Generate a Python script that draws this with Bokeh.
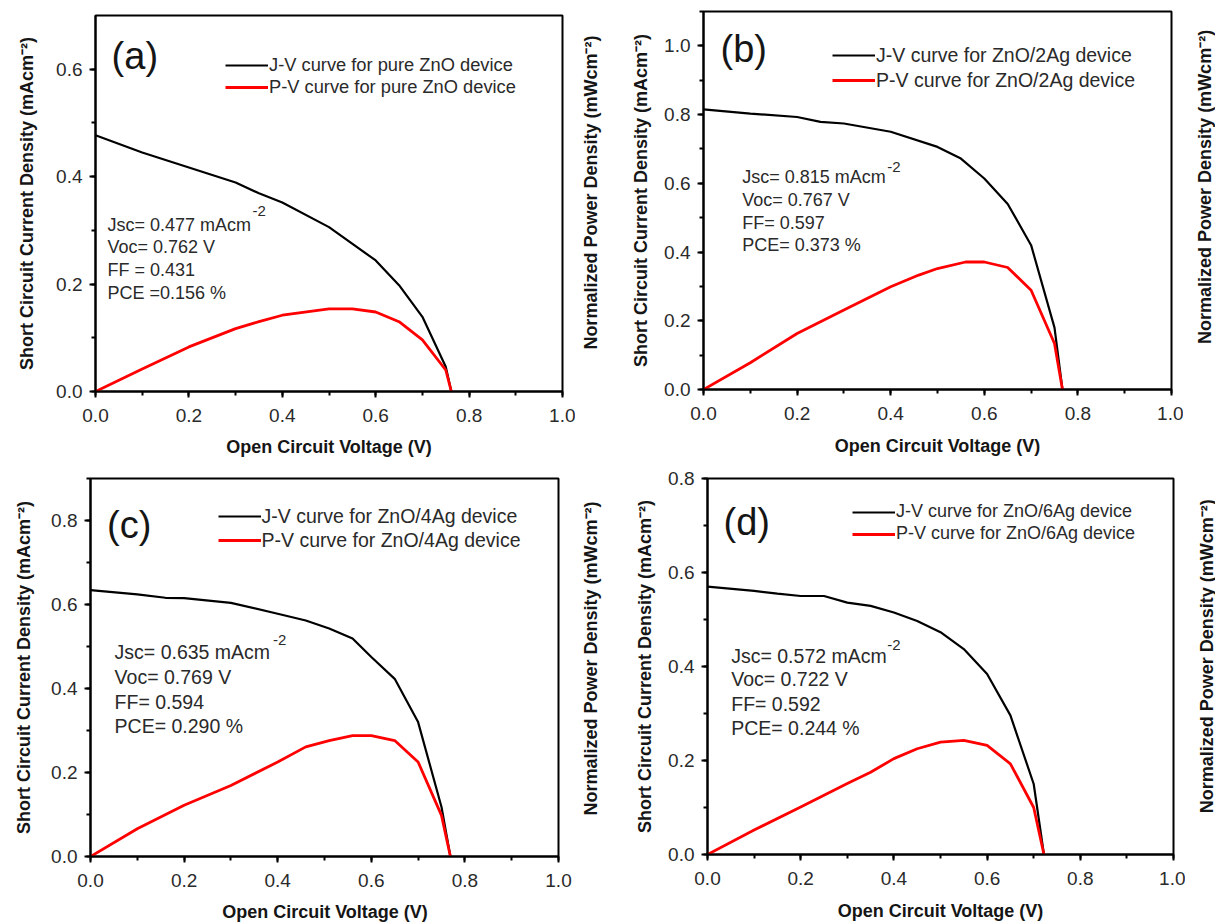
import math
from bokeh.plotting import figure
from bokeh.models import Range1d, SingleIntervalTicker, Legend, LegendItem, NumeralTickFormatter
from bokeh.layouts import column, row
from bokeh.embed import file_html
from bokeh.resources import INLINE
from bokeh.core.properties import value

FONT = "Liberation Sans"

# ---------------- data ----------------
# (a) pure ZnO
a_jv_v = [0.0, 0.1, 0.2, 0.3, 0.35, 0.4, 0.5, 0.6, 0.65, 0.7, 0.75, 0.762]
a_jv_j = [0.477, 0.445, 0.417, 0.389, 0.369, 0.352, 0.306, 0.244, 0.198, 0.139, 0.046, 0.0]
a_pv_v = [0.0, 0.1, 0.2, 0.3, 0.35, 0.4, 0.5, 0.55, 0.6, 0.65, 0.7, 0.75, 0.762]
a_pv_p = [0.0, 0.042, 0.083, 0.117, 0.130, 0.142, 0.154, 0.154, 0.148, 0.130, 0.096, 0.040, 0.0]

# (b) ZnO/2Ag
b_jv_v = [0.0, 0.1, 0.2, 0.25, 0.3, 0.4, 0.5, 0.55, 0.6, 0.65, 0.7, 0.75, 0.767]
b_jv_j = [0.815, 0.803, 0.793, 0.779, 0.774, 0.750, 0.706, 0.672, 0.614, 0.540, 0.420, 0.180, 0.0]
b_pv_v = [0.0, 0.1, 0.2, 0.3, 0.4, 0.46, 0.5, 0.56, 0.6, 0.65, 0.7, 0.75, 0.767]
b_pv_p = [0.0, 0.078, 0.163, 0.231, 0.299, 0.333, 0.352, 0.371, 0.371, 0.355, 0.289, 0.134, 0.0]

# (c) ZnO/4Ag
c_jv_v = [0.0, 0.1, 0.16, 0.2, 0.3, 0.4, 0.46, 0.51, 0.56, 0.6, 0.65, 0.7, 0.75, 0.769]
c_jv_j = [0.634, 0.624, 0.616, 0.615, 0.604, 0.578, 0.562, 0.543, 0.519, 0.475, 0.423, 0.320, 0.118, 0.0]
c_pv_v = [0.0, 0.1, 0.2, 0.3, 0.4, 0.46, 0.51, 0.56, 0.6, 0.65, 0.7, 0.75, 0.769]
c_pv_p = [0.0, 0.066, 0.122, 0.169, 0.225, 0.261, 0.276, 0.288, 0.288, 0.276, 0.225, 0.098, 0.0]

# (d) ZnO/6Ag
d_jv_v = [0.0, 0.1, 0.15, 0.2, 0.25, 0.3, 0.35, 0.4, 0.45, 0.5, 0.55, 0.6, 0.65, 0.7, 0.722]
d_jv_j = [0.570, 0.561, 0.555, 0.550, 0.550, 0.536, 0.529, 0.515, 0.497, 0.473, 0.437, 0.384, 0.296, 0.150, 0.0]
d_pv_v = [0.0, 0.1, 0.2, 0.3, 0.35, 0.4, 0.45, 0.5, 0.55, 0.6, 0.65, 0.7, 0.722]
d_pv_p = [0.0, 0.052, 0.101, 0.151, 0.175, 0.204, 0.225, 0.239, 0.243, 0.232, 0.193, 0.100, 0.0]

panel_tags = ["(a)", "(b)", "(c)", "(d)"]
legend_jv = ["J-V curve for pure ZnO device", "J-V curve for ZnO/2Ag device",
             "J-V curve for ZnO/4Ag device", "J-V curve for ZnO/6Ag device"]
legend_pv = ["P-V curve for pure ZnO device", "P-V curve for ZnO/2Ag device",
             "P-V curve for ZnO/4Ag device", "P-V curve for ZnO/6Ag device"]
a_notes = ["Jsc= 0.477 mAcm", "Voc= 0.762 V", "FF = 0.431", "PCE =0.156 %"]
b_notes = ["Jsc= 0.815 mAcm", "Voc= 0.767 V", "FF= 0.597", "PCE= 0.373 %"]
c_notes = ["Jsc= 0.635 mAcm", "Voc= 0.769 V", "FF= 0.594", "PCE= 0.290 %"]
d_notes = ["Jsc= 0.572 mAcm", "Voc= 0.722 V", "FF= 0.592", "PCE= 0.244 %"]
y_tops = [0.7, 1.1, 0.9, 0.8]

x_label = "Open Circuit Voltage (V)"
y_label = "Short Circuit Current Density (mAcm\u207b\u00b2)"
r_label = "Normalized Power Density (mWcm\u207b\u00b2)"

# ---------------- layout / style per panel ----------------
layout = [
    dict(w=575, h=431, bl=95, br=13, bt=15, bb=40, ylstd=16,
         rw=32, rx=15, ry=228, bw=607, bh=30, bx=328.5, by=15,
         leg=(130, 293.5), legsp=0, legfs="18.3px",
         tag=(0.0345, 0.6246), note_x=0.0257, note_y=[0.3109, 0.2687, 0.2264, 0.1843],
         notefs="18px", sup=(0.336, 0.3453)),
    dict(w=576, h=431, bl=96, br=12, bt=11, bb=42, ylstd=10,
         rw=32, rx=21, ry=231, bw=608, bh=30, bx=330, by=16,
         leg=(129, 297.5), legsp=2, legfs="19.5px",
         tag=(0.0363, 0.992), note_x=0.0827, note_y=[0.6185, 0.552, 0.4856, 0.4195],
         notefs="18px", sup=(0.3925, 0.6607)),
    dict(w=572, h=433, bl=90, br=14, bt=17, bb=38, ylstd=14,
         rw=35, rx=18, ry=226.8, bw=607, bh=28, bx=324.5, by=10.5,
         leg=(127.5, 304.5), legsp=1, legfs="19.5px",
         tag=(0.0353, 0.7904), note_x=0.0515, note_y=[0.486, 0.4264, 0.3669, 0.3111],
         notefs="19.5px", sup=(0.39, 0.5284)),
    dict(w=578, h=433, bl=100, br=12, bt=17, bb=40, ylstd=10,
         rw=30, rx=21, ry=228.2, bw=608, bh=28, bx=333, by=12,
         leg=(145, 310), legsp=1, legfs="18px",
         tag=(0.0343, 0.7078), note_x=0.0509, note_y=[0.423, 0.3733, 0.32, 0.27],
         notefs="19.5px", sup=(0.3856, 0.4574)),
]

series = [
    (a_jv_v, a_jv_j, a_pv_v, a_pv_p, a_notes),
    (b_jv_v, b_jv_j, b_pv_v, b_pv_p, b_notes),
    (c_jv_v, c_jv_j, c_pv_v, c_pv_p, c_notes),
    (d_jv_v, d_jv_j, d_pv_v, d_pv_p, d_notes),
]

TEXT_C = "#2a2a2a"
LABEL_C = "#151515"


def style_axis(ax, std):
    ax.axis_line_width = 2
    ax.axis_line_color = "black"
    ax.major_tick_line_width = 2
    ax.minor_tick_line_width = 2
    ax.major_tick_line_color = "black"
    ax.minor_tick_line_color = "black"
    ax.major_tick_out = 6
    ax.major_tick_in = 0
    ax.minor_tick_out = 4
    ax.minor_tick_in = 0
    ax.major_label_text_font = FONT
    ax.major_label_text_font_size = "19px"
    ax.major_label_text_color = TEXT_C
    ax.axis_label_text_font = FONT
    ax.axis_label_text_font_size = "18px"
    ax.axis_label_text_font_style = "bold"
    ax.axis_label_text_color = LABEL_C
    ax.axis_label_standoff = std


def strip(w, h, x, y, text, angle):
    """A bare figure that only carries one axis title (text inside its own frame)."""
    s = figure(width=w, height=h, x_range=Range1d(0, w), y_range=Range1d(0, h),
               output_backend="svg", toolbar_location=None, tools="",
               x_axis_location=None, y_axis_location=None)
    s.min_border = 0
    s.min_border_left = s.min_border_right = s.min_border_top = s.min_border_bottom = 0
    s.xgrid.visible = False
    s.ygrid.visible = False
    s.outline_line_color = None
    s.background_fill_color = "white"
    s.border_fill_color = "white"
    s.text(x=[x], y=[y], text=[text], text_font=value(FONT), text_font_size="18px",
           text_font_style="bold", text_color=LABEL_C, text_align="center",
           text_baseline="middle", angle=angle)
    return s


def make_panel(i):
    L = layout[i]
    jv_v, jv_j, pv_v, pv_p, notes = series[i]
    ymax = y_tops[i]
    p = figure(width=L["w"], height=L["h"], x_range=Range1d(0, 1), y_range=Range1d(0, ymax),
               output_backend="svg", toolbar_location=None, tools="")
    p.min_border_left = L["bl"]
    p.min_border_right = L["br"]
    p.min_border_top = L["bt"]
    p.min_border_bottom = L["bb"]
    p.xgrid.visible = False
    p.ygrid.visible = False
    p.outline_line_color = "black"
    p.outline_line_width = 2
    p.outline_line_alpha = 1
    p.background_fill_color = "white"
    p.border_fill_color = "white"

    xa = p.xaxis[0]
    xa.ticker = SingleIntervalTicker(interval=0.2, num_minor_ticks=2)
    xa.formatter = NumeralTickFormatter(format="0.0")
    style_axis(xa, 5)
    xa.major_label_standoff = 11

    ya = p.yaxis[0]
    ya.ticker = SingleIntervalTicker(interval=0.2, num_minor_ticks=2)
    ya.formatter = NumeralTickFormatter(format="0.0")
    style_axis(ya, L["ylstd"])
    ya.major_label_standoff = 7
    ya.axis_label = y_label

    r1 = p.line(jv_v, jv_j, line_color="black", line_width=2.2)
    r2 = p.line(pv_v, pv_p, line_color="#ff0000", line_width=2.8)

    leg = Legend(items=[LegendItem(label=legend_jv[i], renderers=[r1]),
                        LegendItem(label=legend_pv[i], renderers=[r2])],
                 location=L["leg"], padding=0, margin=0, spacing=L["legsp"],
                 glyph_width=43, glyph_height=20, label_height=20, label_standoff=1,
                 label_text_font=FONT, label_text_font_size=L["legfs"],
                 label_text_color=TEXT_C, border_line_alpha=0, background_fill_alpha=0)
    p.add_layout(leg)

    tx, ty = L["tag"]
    p.text(x=[tx], y=[ty], text=[panel_tags[i]], text_font=value(FONT),
           text_font_size="38px", text_color=LABEL_C, text_baseline="middle",
           text_align="left")

    nx = L["note_x"]
    p.text(x=[nx] * len(notes), y=L["note_y"], text=notes, text_font=value(FONT),
           text_font_size=L["notefs"], text_color=TEXT_C, text_baseline="middle",
           text_align="left")
    sx, sy = L["sup"]
    p.text(x=[sx], y=[sy], text=["-2"], text_font=value(FONT), text_font_size="15px",
           text_color=TEXT_C, text_baseline="top", text_align="left")

    right = strip(L["rw"], L["h"], L["rx"], L["ry"], r_label, math.pi / 2)
    bottom = strip(L["bw"], L["bh"], L["bx"], L["by"], x_label, 0)
    return column(row(p, right), bottom)


panels = [make_panel(i) for i in range(4)]
page = column(row(panels[0], panels[1]), row(panels[2], panels[3]))
open("out.html", "w").write(file_html(page, INLINE))
